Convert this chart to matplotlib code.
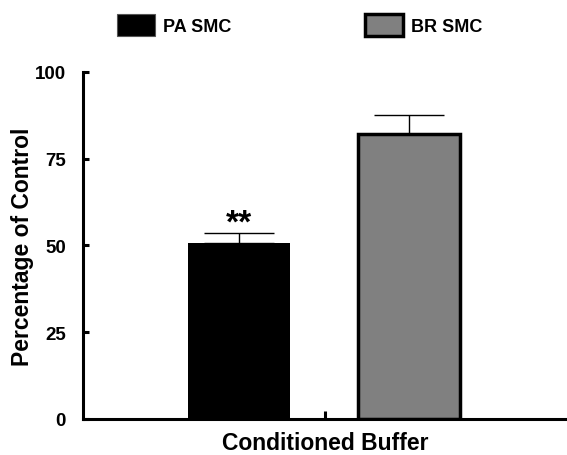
import numpy as np
import matplotlib.pyplot as plt
from matplotlib.patches import Patch

plt.rcParams['font.family'] = ['Liberation Sans', 'DejaVu Sans']
plt.rcParams['font.weight'] = 'bold'

# data
groups = ['PA SMC', 'BR SMC']
values = [50.7, 82.1]
errors = [2.9, 5.5]
bar_colors = ['#000000', '#808080']
edge_widths = [0, 2.5]
marks = ['**', '']
yticks = [0, 25, 50, 75, 100]

fig = plt.figure(figsize=(5.67, 4.56), dpi=100)
ax = fig.add_axes([0.146, 0.079, 0.854, 0.761])

xpos = [0.322, 0.674]
for i in range(len(groups)):
    ax.bar(xpos[i], values[i], width=0.21, color=bar_colors[i],
           edgecolor='black', linewidth=edge_widths[i], zorder=2)
    ax.errorbar(xpos[i], values[i], yerr=[[0], [errors[i]]], fmt='none',
                ecolor='black', elinewidth=1, capsize=25, capthick=1, zorder=1)
    if marks[i]:
        ax.text(xpos[i], values[i] + errors[i] - 1.5, marks[i], ha='center',
                va='bottom', fontsize=24, fontweight='bold')

ax.set_xlim(0, 1)
ax.set_ylim(0, 100)
ax.set_yticks(yticks)
ax.set_xticks([0.5])
ax.set_xticklabels([''])
ax.tick_params(axis='y', direction='in', length=4, width=2.2, labelsize=13.5, pad=12)
ax.tick_params(axis='x', direction='in', length=6, width=2.2)
for lab in ax.get_yticklabels():
    lab.set_fontweight('bold')

ax.spines['top'].set_visible(False)
ax.spines['right'].set_visible(False)
ax.spines['left'].set_linewidth(2.2)
ax.spines['bottom'].set_linewidth(2.2)

ax.set_ylabel('Percentage of Control', fontsize=16.5, fontweight='bold', labelpad=1)
ax.set_xlabel('Conditioned Buffer', fontsize=16.5, fontweight='bold', labelpad=5)

handles = [Patch(facecolor=bar_colors[0], edgecolor='#555555', linewidth=0.8),
           Patch(facecolor=bar_colors[1], edgecolor='black', linewidth=2.5)]
fig.legend(handles, groups, loc='center', bbox_to_anchor=(0.528, 0.943), ncol=2,
           frameon=False, handlelength=2.1, handleheight=1.5,
           handletextpad=0.45, columnspacing=7.4, prop={'weight': 'bold', 'size': 13})

fig.savefig('out.png', dpi=100)
